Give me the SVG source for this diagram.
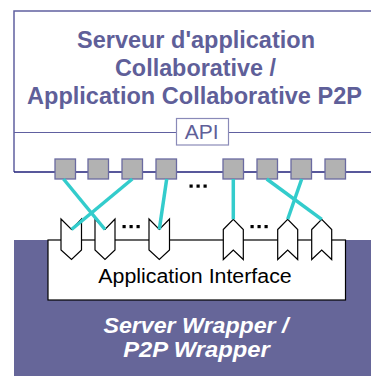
<svg xmlns="http://www.w3.org/2000/svg" width="371" height="376" viewBox="0 0 371 376">
<style>
.title{font-family:"Liberation Sans",Arial,sans-serif;font-weight:bold;font-size:23px;fill:#5f5f99;text-anchor:middle}
.api{font-family:"Liberation Sans",Arial,sans-serif;font-size:21px;fill:#5f5f99;text-anchor:middle}
.ai{font-family:"Liberation Sans",Arial,sans-serif;font-size:20px;fill:#000;text-anchor:middle}
.wr{font-family:"Liberation Sans",Arial,sans-serif;font-weight:bold;font-style:italic;font-size:22.5px;fill:#fff;text-anchor:middle}
.sq{fill:#b2b2b2;stroke:#6a6aa0;stroke-width:1.3}
.cn{fill:#fff;stroke:#000;stroke-width:1.2;stroke-linejoin:miter}
.ln{stroke:#33cccc;stroke-width:3.5;fill:none}
.dots{fill:#000}
</style>
<rect width="371" height="376" fill="#fff"/>
<g id="server">
<path d="M380 11 H14 V172" fill="none" stroke="#6060a0" stroke-width="1.5"/>
<line x1="14" y1="172" x2="380" y2="172" stroke="#20207a" stroke-width="1.5"/>
<text class="title" x="196" y="48" textLength="238" lengthAdjust="spacingAndGlyphs">Serveur d'application</text>
<text class="title" x="195.5" y="76" textLength="161" lengthAdjust="spacingAndGlyphs">Collaborative /</text>
<text class="title" x="194.5" y="104" textLength="335" lengthAdjust="spacingAndGlyphs">Application Collaborative P2P</text>
</g>
<g id="api">
<line x1="14" y1="132.5" x2="176" y2="132.5" stroke="#6060a0" stroke-width="1.2"/>
<line x1="229" y1="132.5" x2="380" y2="132.5" stroke="#6060a0" stroke-width="1.2"/>
<rect x="176.5" y="118.5" width="52" height="26.5" fill="#fff" stroke="#8a8ab8" stroke-width="1.2"/>
<text class="api" x="201.7" y="139">API</text>
</g>
<g id="ports">
<rect class="sq" x="55" y="159" width="20.5" height="20"/>
<rect class="sq" x="88" y="159" width="20.5" height="20"/>
<rect class="sq" x="122" y="159" width="20.5" height="20"/>
<rect class="sq" x="156" y="159" width="20.5" height="20"/>
<rect class="sq" x="223" y="159" width="20.5" height="20"/>
<rect class="sq" x="257" y="159" width="20.5" height="20"/>
<rect class="sq" x="291" y="159" width="20.5" height="20"/>
<rect class="sq" x="325" y="159" width="20.5" height="20"/>
<g class="dots"><rect x="189.5" y="184.5" width="3.2" height="3.2"/><rect x="196.5" y="184.5" width="3.2" height="3.2"/><rect x="203.5" y="184.5" width="3.2" height="3.2"/></g>
</g>
<g id="wrapper">
<rect x="14" y="240" width="370" height="140" fill="#666699"/>
<text class="wr" x="196" y="333.3" textLength="185" lengthAdjust="spacingAndGlyphs">Server Wrapper /</text>
<text class="wr" x="196.5" y="356.7" textLength="146.7" lengthAdjust="spacingAndGlyphs">P2P Wrapper</text>
</g>
<g id="application-interface">
<rect x="48" y="240" width="297.5" height="60" fill="#fff" stroke="#000" stroke-width="1.2"/>
<text class="ai" x="195" y="283.3" textLength="193.4" lengthAdjust="spacingAndGlyphs">Application Interface</text>
</g>
<g id="connectors-in">
<path class="cn" d="M61 219 L71.5 229.5 L81.5 219 V250 L71.5 259.5 L61 250 Z"/>
<path class="cn" d="M95 219 L105 229.5 L115 219 V250 L105 259.5 L95 250 Z"/>
<path class="cn" d="M149 219 L159.3 229.5 L169.5 219 V250 L159.3 259.5 L149 250 Z"/>
<g class="dots"><rect x="122.5" y="225" width="3.2" height="3.2"/><rect x="129.5" y="225" width="3.2" height="3.2"/><rect x="136.5" y="225" width="3.2" height="3.2"/></g>
</g>
<g id="connectors-out">
<path class="cn" d="M223.3 229.5 L233.3 219.3 L243.3 229.5 V259.5 L233.3 250 L223.3 259.5 Z"/>
<path class="cn" d="M277.7 229.5 L287.7 219.3 L297.7 229.5 V259.5 L287.7 250 L277.7 259.5 Z"/>
<path class="cn" d="M311.7 229.5 L321.7 219.3 L331.7 229.5 V259.5 L321.7 250 L311.7 259.5 Z"/>
<g class="dots"><rect x="250.5" y="225" width="3.2" height="3.2"/><rect x="257.5" y="225" width="3.2" height="3.2"/><rect x="264.5" y="225" width="3.2" height="3.2"/></g>
</g>
<g id="links">
<line class="ln" x1="63.5" y1="179" x2="105" y2="229.5"/>
<line class="ln" x1="132.3" y1="179" x2="71.5" y2="229.5"/>
<line class="ln" x1="166.7" y1="179" x2="159.3" y2="229.5"/>
<line class="ln" x1="233.3" y1="179" x2="233.3" y2="219.3"/>
<line class="ln" x1="266.7" y1="179" x2="321.7" y2="219.3"/>
<line class="ln" x1="301.7" y1="179" x2="287.7" y2="219.3"/>
</g>
</svg>
